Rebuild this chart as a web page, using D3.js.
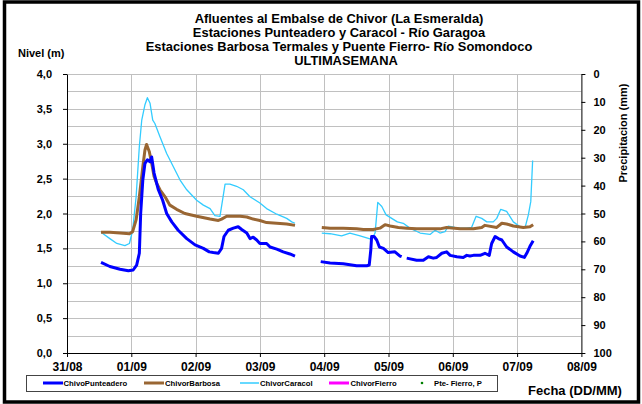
<!DOCTYPE html>
<html>
<head>
<meta charset="utf-8">
<script src="https://cdn.jsdelivr.net/npm/d3@7"></script>
<style>
  html, body { margin: 0; padding: 0; background: #fff; }
  svg { display: block; font-family: "Liberation Sans", Arial, sans-serif; }
</style>
</head>
<body>
<svg id="chart" width="642" height="404"></svg>
<script>
// ---------- DATA ----------
const titleLines = [
  "Afluentes al Embalse de Chivor (La Esmeralda)",
  "Estaciones Punteadero y Caracol - Río Garagoa",
  "Estaciones Barbosa Termales y Puente Fierro- Río Somondoco",
  "ULTIMASEMANA"
];
const dateLabels = ["31/08","01/09","02/09","03/09","04/09","05/09","06/09","07/09","08/09"];
const levelTicks = [0,0.5,1,1.5,2,2.5,3,3.5,4];
const rainTicks = [0,10,20,30,40,50,60,70,80,90,100];
const seriesNames = ["ChivoPunteadero","ChivorBarbosa","ChivorCaracol","ChivorFierro","Pte- Fierro, P"];

// [hours since 31/08 00:00, level m]; null = gap
const punteadero = [
  [12.7,1.30],[16.0,1.24],[19.8,1.20],[22.9,1.18],[24.7,1.19],[26.0,1.26],[27.0,1.43],[27.5,2.00],
  [28.3,2.48],[29.1,2.72],[30.0,2.77],[31.0,2.74],[31.6,2.81],[32.5,2.58],[34.1,2.34],[35.7,2.19],
  [37.2,2.00],[39.1,1.88],[41.5,1.76],[44.7,1.64],[47.8,1.55],[50.9,1.50],[53.1,1.45],[54.6,1.44],
  [56.5,1.43],[57.7,1.50],[58.6,1.67],[60.2,1.76],[62.1,1.79],[63.9,1.81],[65.2,1.77],[67.1,1.72],
  [68.3,1.64],[69.5,1.66],[70.8,1.62],[72.0,1.57],[74.5,1.57],[75.8,1.52],[78.3,1.49],[80.7,1.45],
  [83.2,1.42],[85.1,1.39],
  null,
  [94.7,1.31],[98.2,1.29],[103.1,1.28],[108.1,1.25],[111.9,1.25],[112.8,1.26],[113.4,1.48],[113.7,1.67],
  [114.6,1.67],[115.6,1.62],[116.6,1.52],[118.1,1.50],[119.9,1.44],[122.4,1.45],[124.3,1.39],[124.9,1.38],
  null,
  [126.8,1.36],[130.5,1.33],[133.0,1.33],[134.9,1.38],[136.7,1.36],[138.0,1.37],[139.9,1.43],[141.7,1.45],
  [143.0,1.40],[145.5,1.38],[147.9,1.37],[149.2,1.40],[150.4,1.39],[151.7,1.40],[154.2,1.40],[156.0,1.43],
  [157.6,1.40],[158.5,1.57],[159.8,1.67],[161.0,1.64],[162.3,1.62],[164.1,1.52],[166.6,1.45],[169.1,1.39],
  [170.7,1.37],[171.6,1.43],[172.8,1.53],[174.0,1.61]
];
const barbosa = [
  [12.7,1.73],[16.0,1.73],[19.8,1.72],[23.3,1.71],[24.5,1.74],[25.8,1.91],[27.0,2.24],[28.3,2.67],
  [29.1,2.91],[29.7,2.99],[30.7,2.89],[31.6,2.72],[32.5,2.53],[33.5,2.43],[34.7,2.34],[36.6,2.24],
  [38.4,2.12],[40.9,2.06],[44.0,2.00],[48.4,1.96],[53.4,1.92],[56.5,1.90],[57.7,1.92],[59.6,1.96],
  [62.1,1.96],[64.6,1.96],[67.1,1.95],[69.5,1.92],[72.0,1.90],[74.5,1.87],[78.3,1.86],[82.0,1.85],
  [85.1,1.83],
  null,
  [95.1,1.80],[98.2,1.79],[103.1,1.79],[108.1,1.78],[110.6,1.77],[114.3,1.77],[116.8,1.79],[118.7,1.84],
  [120.6,1.82],[123.7,1.80],[126.8,1.79],[130.5,1.78],[135.5,1.78],[139.2,1.78],[141.7,1.80],[146.7,1.78],
  [151.7,1.78],[154.8,1.80],[156.0,1.83],[160.4,1.80],[162.3,1.86],[164.1,1.85],[166.6,1.82],[170.3,1.80],
  [172.8,1.81],[174.0,1.84]
];
const caracol = [
  [12.7,1.73],[16.0,1.64],[18.6,1.57],[21.6,1.54],[23.3,1.57],[24.5,1.76],[25.8,2.24],[27.0,2.96],
  [27.9,3.34],[29.1,3.56],[30.0,3.66],[31.0,3.58],[32.0,3.34],[32.8,3.29],[34.7,3.10],[37.2,2.86],
  [39.7,2.67],[42.2,2.48],[44.7,2.34],[48.4,2.19],[50.9,2.12],[53.4,2.07],[55.2,1.97],[57.1,1.96],
  [59.0,2.42],[60.8,2.42],[63.3,2.39],[65.8,2.34],[68.3,2.24],[72.0,2.15],[74.5,2.07],[78.3,1.99],
  [82.0,1.93],[83.9,1.88],[85.1,1.86],
  null,
  [95.1,1.72],[98.2,1.71],[102.5,1.68],[105.6,1.72],[109.4,1.68],[113.7,1.63],[115.0,1.72],[116.0,2.16],
  [117.5,2.10],[119.1,1.98],[121.2,1.93],[123.3,1.88],[125.5,1.86],[128.0,1.79],[131.8,1.72],[135.5,1.70],
  [137.4,1.76],[139.2,1.72],[141.1,1.74],[142.3,1.82],[144.8,1.80],[146.7,1.79],[149.2,1.79],[151.0,1.80],
  [152.7,1.96],[154.8,1.93],[156.7,1.88],[159.1,1.88],[160.4,1.93],[161.9,2.06],[164.1,2.03],[166.6,1.88],
  [169.1,1.81],[171.0,1.80],[172.2,1.98],[173.1,2.17],[173.8,2.76]
];

// ---------- LAYOUT ----------
const svg = d3.select("#chart");
const X0 = 67, X1 = 581.4, Y0 = 353, Y1 = 74;
const colors = ["#0000ff", "#996633", "#33ccff", "#ff00ff", "#008000"];

const x = d3.scaleLinear().domain([0, 192]).range([X0, X1]);
const y = d3.scaleLinear().domain([0, 4]).range([Y0, Y1]);
const yR = d3.scaleLinear().domain([0, 100]).range([Y1, Y0]);

// outer frame
svg.append("rect").attr("x", 4.5).attr("y", 2).attr("width", 634).attr("height", 400)
  .attr("fill", "#fff").attr("stroke", "#000").attr("stroke-width", 3.5);

// gridlines
const gridG = svg.append("g");
gridG.selectAll("line.h").data(d3.range(0.25, 4.01, 0.25)).join("line")
  .attr("x1", X0).attr("x2", X1).attr("y1", d => Math.round(y(d)) + 0.5).attr("y2", d => Math.round(y(d)) + 0.5)
  .attr("stroke", "#c0c0c0").attr("stroke-width", 1);
gridG.selectAll("line.v").data(d3.range(24, 192, 24)).join("line")
  .attr("y1", Y1).attr("y2", Y0).attr("x1", d => Math.round(x(d)) + 0.5).attr("x2", d => Math.round(x(d)) + 0.5)
  .attr("stroke", "#c0c0c0").attr("stroke-width", 1);

// axes
const axisFont = g => g.selectAll("text").attr("font-weight", "bold").attr("fill", "#000");
const xAxis = svg.append("g").attr("transform", `translate(0,${Y0})`)
  .call(d3.axisBottom(x).tickValues(d3.range(0, 193, 24)).tickFormat((d, i) => dateLabels[i]).tickSize(4).tickSizeOuter(0).tickPadding(5));
xAxis.selectAll("text").attr("font-size", 12);
axisFont(xAxis);

const yAxis = svg.append("g").attr("transform", `translate(${X0},0)`)
  .call(d3.axisLeft(y).tickValues(levelTicks).tickFormat(d => d3.format(".1f")(d).replace(".", ",")).tickSize(4).tickSizeOuter(0).tickPadding(11));
yAxis.selectAll("text").attr("font-size", 11);
axisFont(yAxis);

const yAxisR = svg.append("g").attr("transform", `translate(${X1},0)`)
  .call(d3.axisRight(yR).tickValues(rainTicks).tickSize(4).tickSizeOuter(0).tickPadding(8));
yAxisR.selectAll("text").attr("font-size", 11);
axisFont(yAxisR);

[xAxis, yAxis, yAxisR].forEach(a => {
  a.selectAll("path.domain").attr("stroke", "#000");
  a.selectAll(".tick line").attr("stroke", "#000");
  a.selectAll("text").attr("font-family", "Liberation Sans, Arial, sans-serif");
});

// series lines
const line = d3.line().defined(d => d !== null).x(d => x(d[0])).y(d => y(d[1]));
svg.append("path").datum(caracol).attr("d", line).attr("fill", "none")
  .attr("stroke", colors[2]).attr("stroke-width", 1.3).attr("stroke-linejoin", "round");
svg.append("path").datum(barbosa).attr("d", line).attr("fill", "none")
  .attr("stroke", colors[1]).attr("stroke-width", 3).attr("stroke-linejoin", "round");
svg.append("path").datum(punteadero).attr("d", line).attr("fill", "none")
  .attr("stroke", colors[0]).attr("stroke-width", 3).attr("stroke-linejoin", "round");

// titles
const title = svg.append("g").attr("font-weight", "bold").attr("font-size", 12.9).attr("text-anchor", "middle");
const titleY = [23, 37, 51, 65];
titleLines.forEach((t, i) => title.append("text").attr("x", i === 3 ? 346 : 339).attr("y", titleY[i]).text(t));

svg.append("text").attr("x", 18).attr("y", 57).attr("font-size", 11).attr("font-weight", "bold").text("Nivel (m)");
svg.append("text").attr("transform", "translate(627,133) rotate(-90)").attr("text-anchor", "middle")
  .attr("font-size", 11).attr("font-weight", "bold").text("Precipitacion (mm)");
svg.append("text").attr("x", 528).attr("y", 395).attr("font-size", 13).attr("font-weight", "bold").text("Fecha (DD/MM)");

// legend
const leg = svg.append("g");
leg.append("rect").attr("x", 26.5).attr("y", 375.5).attr("width", 471).attr("height", 16)
  .attr("fill", "#fff").attr("stroke", "#444").attr("stroke-width", 1);
const legItems = [
  {x: 43, w: 20, t: 63.5, sw: 3},
  {x: 144, w: 20, t: 165, sw: 3},
  {x: 240, w: 19, t: 260, sw: 1.5},
  {x: 329, w: 20, t: 350.5, sw: 3},
  {x: 422, w: 0, t: 434, sw: 0}
];
legItems.forEach((it, i) => {
  if (it.w > 0) {
    leg.append("line").attr("x1", it.x).attr("x2", it.x + it.w).attr("y1", 383).attr("y2", 383)
      .attr("stroke", colors[i]).attr("stroke-width", it.sw);
  } else {
    leg.append("circle").attr("cx", it.x).attr("cy", 383).attr("r", 1.3).attr("fill", colors[i]);
  }
  leg.append("text").attr("x", it.t).attr("y", 385.8).attr("font-size", 7.7).attr("font-weight", "bold").text(seriesNames[i]);
});
</script>
</body>
</html>
